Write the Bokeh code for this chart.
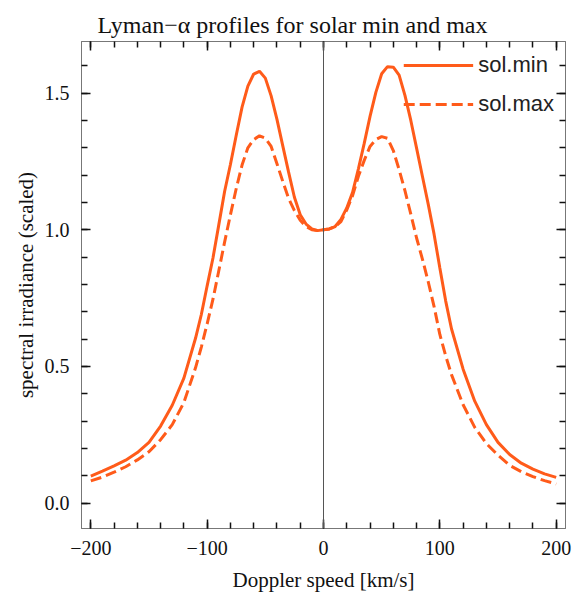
from bokeh.plotting import figure
from bokeh.models import (FixedTicker, LinearAxis, Span, Legend, LegendItem,
                          Range1d)
from bokeh.embed import file_html
from bokeh.resources import INLINE

# ---- data ----
speed = [-200, -190, -180, -170, -160, -150, -140, -130, -120, -110,
         -105, -100, -95, -90, -85, -80, -75, -70, -65, -60, -55, -50, -45,
         -40, -35, -30, -25, -20, -15, -10, -5, 0, 5, 10, 15, 20, 25, 30, 35,
         40, 45, 50, 55, 60, 65, 70, 75, 80, 85, 90, 95, 100, 105,
         110, 120, 130, 140, 150, 160, 170, 180, 190, 200]

sol_min = [0.099, 0.117, 0.136, 0.157, 0.185, 0.222, 0.282, 0.358, 0.457, 0.603,
           0.690, 0.795, 0.897, 1.018, 1.140, 1.239, 1.346, 1.449, 1.526, 1.570,
           1.580, 1.555, 1.490, 1.404, 1.307, 1.211, 1.119, 1.055, 1.021, 1.003,
           0.997, 1.000, 1.003, 1.012, 1.038, 1.080, 1.137, 1.223, 1.316, 1.415,
           1.503, 1.571, 1.597, 1.595, 1.566, 1.492, 1.401, 1.299, 1.196, 1.094,
           0.985, 0.860, 0.740,
           0.638, 0.490, 0.373, 0.287, 0.222, 0.178, 0.146, 0.124, 0.107, 0.094]

sol_max = [0.081, 0.095, 0.113, 0.133, 0.158, 0.188, 0.232, 0.287, 0.368, 0.495,
           0.571, 0.656, 0.746, 0.850, 0.955, 1.055, 1.151, 1.237, 1.300, 1.330,
           1.344, 1.335, 1.305, 1.242, 1.177, 1.115, 1.070, 1.035, 1.012, 1.000,
           0.997, 1.000, 1.003, 1.012, 1.030, 1.073, 1.125, 1.196, 1.254, 1.305,
           1.330, 1.341, 1.335, 1.290, 1.220, 1.143, 1.058, 0.970, 0.893, 0.810,
           0.720, 0.617, 0.539,
           0.470, 0.360, 0.277, 0.218, 0.175, 0.138, 0.115, 0.097, 0.082, 0.070]

x_major = [-200, -100, 0, 100, 200]
x_minor = list(range(-200, 201, 20))
y_major = [0.0, 0.5, 1.0, 1.5]
y_minor = [round(0.1 * i, 1) for i in range(0, 17)]
x_labels = {-200: "\u2212200", -100: "\u2212100", 0: "0", 100: "100", 200: "200"}
y_labels = {0.0: "0.0", 0.5: "0.5", 1.0: "1.0", 1.5: "1.5"}

X0, X1 = -208, 208
Y0, Y1 = -0.093, 1.689

ORANGE = "#ff5b1a"
FRAME = "#777777"
TICK = "#111111"
SERIF = "Liberation Serif"

p = figure(width=573, height=596, output_backend="svg", toolbar_location=None,
           x_range=Range1d(X0, X1), y_range=Range1d(Y0, Y1),
           min_border_left=81, min_border_right=8, min_border_top=41,
           min_border_bottom=68,
           x_axis_label="Doppler speed [km/s]",
           y_axis_label="spectral irradiance (scaled)")

p.title.text = "Lyman\u2212\u03b1 profiles for solar min and max"
p.title.text_font = SERIF
p.title.text_font_size = "24px"
p.title.text_font_style = "normal"
p.title.align = "left"
p.title.offset = 16
p.title.text_color = "#111111"
p.title.standoff = 0

p.xgrid.visible = False
p.ygrid.visible = False
p.outline_line_color = FRAME


def style_ticks(ax, ticks, minor):
    ax.ticker = FixedTicker(ticks=ticks, minor_ticks=minor)
    ax.axis_line_color = FRAME
    ax.major_tick_line_color = TICK
    ax.minor_tick_line_color = TICK
    ax.major_tick_line_width = 1.5
    ax.minor_tick_line_width = 1.5
    ax.major_tick_in = 9
    ax.major_tick_out = 0
    ax.minor_tick_in = 6
    ax.minor_tick_out = 0


def style_labels(ax, labels):
    ax.major_label_overrides = labels
    ax.major_label_text_font = SERIF
    ax.major_label_text_font_size = "20px"
    ax.major_label_text_color = "#111111"
    ax.axis_label_text_font = SERIF
    ax.axis_label_text_font_size = "21px"
    ax.axis_label_text_font_style = "normal"
    ax.axis_label_text_color = "#111111"


xb = p.xaxis[0]
style_ticks(xb, x_major, x_minor)
style_labels(xb, x_labels)
xb.major_label_standoff = 12
xb.axis_label_standoff = 10

yl = p.yaxis[0]
style_ticks(yl, y_major, y_minor)
style_labels(yl, y_labels)
yl.major_label_standoff = 12
yl.axis_label_standoff = 4

xt = LinearAxis(major_label_overrides={t: " " for t in x_major},
                major_label_text_font_size="1px", major_label_standoff=0)
style_ticks(xt, x_major, x_minor)
p.add_layout(xt, "above")

yr = LinearAxis(major_label_overrides={t: " " for t in y_major},
                major_label_text_font_size="1px", major_label_standoff=0)
style_ticks(yr, y_major, y_minor)
p.add_layout(yr, "right")

p.add_layout(Span(location=0, dimension="height", line_color="#555555",
                  line_width=1))

r_min = p.line(speed, sol_min, line_color=ORANGE, line_width=3)
r_max = p.line(speed, sol_max, line_color=ORANGE, line_width=3,
               line_dash="11 5")

legend = Legend(items=[LegendItem(label="sol.min", renderers=[r_min]),
                       LegendItem(label="sol.max", renderers=[r_max])],
                location="top_right", border_line_color=None,
                background_fill_alpha=0, label_text_font="Liberation Sans",
                label_text_font_size="22px", label_text_color="#222222",
                glyph_width=70, glyph_height=20, spacing=13, padding=0,
                margin=11, label_standoff=5)
p.add_layout(legend)

open("out.html", "w").write(file_html(p, INLINE))
